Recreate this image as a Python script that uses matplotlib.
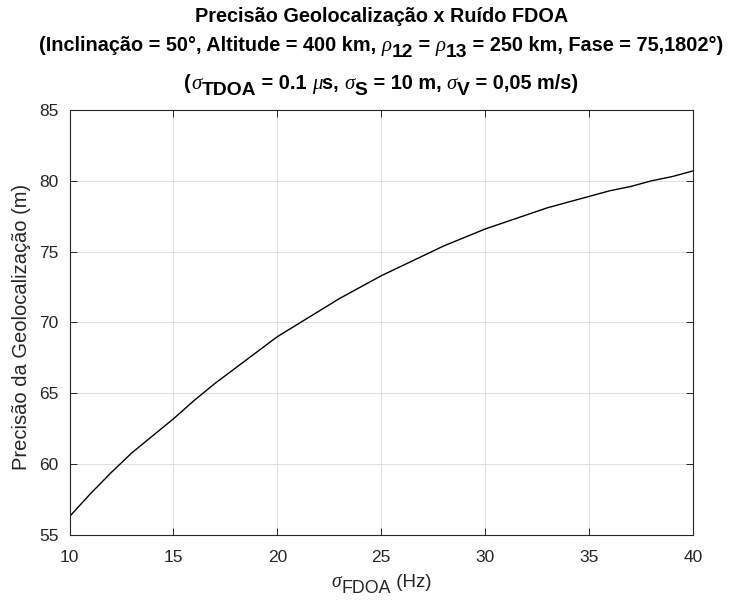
import matplotlib
matplotlib.use("Agg")
import matplotlib.pyplot as plt

# values
sigma_fdoa = [10, 11, 12, 13, 14, 15, 16, 17, 18, 19, 20, 21, 22, 23, 24, 25,
              26, 27, 28, 29, 30, 31, 32, 33, 34, 35, 36, 37, 38, 39, 40]
precisao = [56.3, 57.9, 59.4, 60.8, 62.0, 63.2, 64.5, 65.7, 66.8, 67.9, 69.0,
            69.9, 70.8, 71.7, 72.5, 73.3, 74.0, 74.7, 75.4, 76.0, 76.6,
            77.1, 77.6, 78.1, 78.5, 78.9, 79.3, 79.6, 80.0, 80.3, 80.7]

x_ticks = [10, 15, 20, 25, 30, 35, 40]
y_ticks = [55, 60, 65, 70, 75, 80, 85]

plt.rcParams['font.family'] = ['Liberation Sans', 'DejaVu Sans']

dark = '#262626'
W, H = 747, 602

fig = plt.figure(figsize=(W / 100, H / 100), dpi=100)
ax = fig.add_axes([69.5 / W, (H - 535) / H, 623.5 / W, 425 / H])

ax.plot(sigma_fdoa, precisao, color='black', linewidth=1.0)

ax.set_xlim(10, 40)
ax.set_ylim(55, 85)
ax.set_xticks(x_ticks)
ax.set_yticks(y_ticks)
ax.grid(True, color='#e0e0e0', linewidth=0.7)
ax.set_axisbelow(True)
ax.tick_params(direction='in', top=True, right=True, length=5, width=0.7,
               colors=dark, labelsize=12.5, labelcolor=dark)
ax.tick_params(axis='x', pad=11)
ax.tick_params(axis='y', pad=8)
for s in ax.spines.values():
    s.set_color(dark)
    s.set_linewidth(0.8)

ax.set_ylabel('Precisão da Geolocalização (m)', fontsize=14.5, color=dark, va='center')
ax.yaxis.set_label_coords((22 - 69.5) / 623.5, 0.489)

renderer = fig.canvas.get_renderer()


def rich_line(pieces, cx, base):
    # pieces: (text, props, shift down in px); laid out left to right, centred on cx
    placed = []
    total = 0
    for s, props, dy in pieces:
        t = fig.text(0, 0, s, ha='left', va='baseline', **props)
        probe = fig.text(0, 0, '|' + s + '|', **props)
        bar = fig.text(0, 0, '||', **props)
        w = probe.get_window_extent(renderer).width - bar.get_window_extent(renderer).width
        probe.remove()
        bar.remove()
        placed.append((t, dy, w))
        total += w
    x = cx - total / 2
    for t, dy, w in placed:
        t.set_position((x / W, 1 - (base + dy) / H))
        x += w


ts = 14.3
main = dict(fontsize=ts, fontweight='bold', color='black')
sub = dict(fontsize=ts * 0.97, fontweight='bold', color='black')
greek = dict(fontsize=ts * 1.05, family='Liberation Serif', style='italic', color='black')
cx = 69.5 + 623.5 / 2

rich_line([('Precisão Geolocalização x Ruído FDOA', main, 0)], cx, 22)
rich_line([
    ('(Inclinação = 50°, Altitude = 400 km, ', main, 0),
    ('ρ', greek, 0), ('12', sub, 6),
    (' = ', main, 0),
    ('ρ', greek, 0), ('13', sub, 6),
    (' = 250 km, Fase = 75,1802°)', main, 0),
], cx, 51)
rich_line([
    ('(', main, 0), ('σ', greek, 0), ('TDOA', sub, 6),
    (' = 0.1 ', main, 0), ('μ', greek, 0), ('s, ', main, 0),
    ('σ', greek, 0), ('S', sub, 6),
    (' = 10 m, ', main, 0),
    ('σ', greek, 0), ('V', sub, 6),
    (' = 0,05 m/s)', main, 0),
], cx, 89)

# x label
ls = 13.5
lab = dict(fontsize=ls, color=dark)
lab_sub = dict(fontsize=ls * 0.95, color=dark)
lab_greek = dict(fontsize=ls * 1.05, family='Liberation Serif', style='italic', color=dark)
rich_line([('σ', lab_greek, 0), ('FDOA', lab_sub, 6), (' (Hz)', lab, 0)], cx, 587)

fig.savefig('out.png', dpi=100)
